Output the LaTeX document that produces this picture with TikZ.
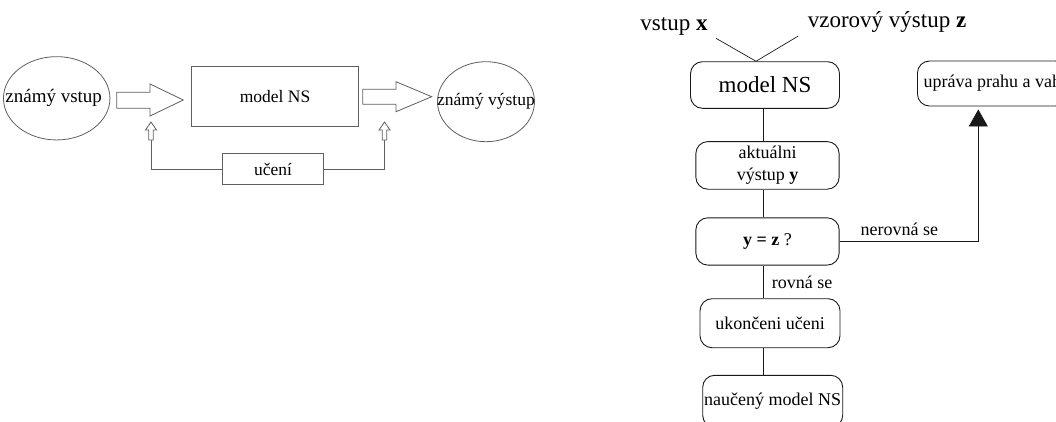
\documentclass[tikz,border=0pt]{standalone}
\usepackage{fontspec}
\setmainfont{Liberation Serif}
\usetikzlibrary{arrows.meta,positioning,shapes.geometric}
\definecolor{linegray}{RGB}{95,95,95}
\definecolor{ink}{RGB}{25,25,25}

\begin{document}
\begin{tikzpicture}[
    x=1pt, y=-1pt,
    every node/.style={inner sep=0pt},
    txt/.style={font=\fontsize{17.5}{22}\selectfont},
    flowtxt/.style={font=\fontsize{18}{22}\selectfont},
    bigtxt/.style={font=\fontsize{23}{27}\selectfont},
    oval/.style={ellipse, draw=linegray, line width=0.8pt},
    block/.style={draw=linegray, line width=0.8pt, txt},
    blockarrow/.style={draw=linegray, line width=0.8pt, fill=white, line join=miter},
    feedback/.style={draw=linegray, line width=0.8pt},
    stepbox/.style={draw=ink, line width=0.9pt, rounded corners=12pt, align=center, flowtxt},
    link/.style={draw=ink, line width=0.9pt},
    arrow/.style={link, -{Triangle[length=17pt, width=19pt]}, shorten >=3pt}
]
\useasboundingbox (0,0) rectangle (1056,421);

% learning scheme
\node[oval, minimum width=106.5pt, minimum height=83.3pt, label={[font=\fontsize{19}{22}\selectfont, xshift=-3pt]center:známý vstup}] (inL) at (56.7,98.3) {};
\node[block, minimum width=166.6pt, minimum height=60pt] (modelL) at (275,96.7) {model NS};
\node[oval, minimum width=97pt, minimum height=80pt, label={[txt]center:známý výstup}] (outL) at (486,101.7) {};
\node[block, minimum width=100.5pt, minimum height=31.7pt] (uceni) at (273,169) {učení};

% fat arrows in and out of the model
\draw[blockarrow] (116.7,92.3) -- ++(33.3,0) -- ++(0,-8.3) -- ++(33.3,16) -- ++(-33.3,16) -- ++(0,-7.7) -- ++(-33.3,0) -- cycle;
\draw[blockarrow] (362.7,89.3) -- ++(33.3,0) -- ++(0,-7.6) -- ++(35.7,15) -- ++(-35.7,15) -- ++(0,-7.4) -- ++(-33.3,0) -- cycle;

% feedback from learning
\coordinate (fbL) at (151,140);
\coordinate (fbR) at (384.5,140);
\draw[feedback] (uceni.west) -| (fbL);
\draw[feedback] (uceni.east) -| (fbR);
\draw[blockarrow] (fbL) ++(-2.2,0) -- ++(0,-10) -- ++(-3.3,0) -- ++(5.5,-8) -- ++(5.5,8) -- ++(-3.3,0) -- ++(0,10) -- cycle;
\draw[blockarrow] (fbR) ++(-2.2,0) -- ++(0,-10) -- ++(-3.3,0) -- ++(5.5,-8) -- ++(5.5,8) -- ++(-3.3,0) -- ++(0,10) -- cycle;

% training loop
\node[bigtxt, anchor=base] (inX) at (674,30) {vstup \textbf{x}};
\node[bigtxt, anchor=base] (goalZ) at (887,27) {vzorový výstup \textbf{z}};
\node[stepbox, bigtxt, minimum width=149pt, minimum height=46.6pt] (modelR) at (765,85) {model NS};
\node[stepbox, minimum width=143.3pt, minimum height=47.6pt, below=32.4pt of modelR, xshift=2.5pt] (aktual) {aktuálni\\výstup \textbf{y}};
\node[stepbox, minimum width=143.3pt, minimum height=47.3pt, below=27.7pt of aktual] (cmp) {\textbf{y = z} ?};
\node[stepbox, minimum width=140pt, minimum height=49pt, below=32.7pt of cmp, xshift=2.5pt] (konec) {ukončeni učeni};
\node[stepbox, minimum width=140pt, minimum height=52pt, below=26.7pt of konec, xshift=2.7pt] (naucen) {naučený model NS};
\node[stepbox, minimum width=150pt, minimum height=45pt, anchor=west] (upr) at (917,83.5) {upráva prahu a vah};

\coordinate (join) at ([xshift=-9pt]modelR.north);
\coordinate (spine) at (763.3,0);
\coordinate (turn) at (978.3,0);

\draw[link, line width=0.7pt] ([xshift=42pt, yshift=-8.3pt]inX.base) -- (join);
\draw[link, line width=0.7pt] ([xshift=-88.7pt, yshift=-9pt]goalZ.base) -- (join);
\draw[link] (modelR.south -| spine) -- (aktual.north -| spine);
\draw[link] (aktual.south -| spine) -- (cmp.north -| spine);
\draw[link] (cmp.south -| spine) -- node[flowtxt, right=8pt, pos=0.5] {rovná se} (konec.north -| spine);
\draw[link] (konec.south -| spine) -- (naucen.north -| spine);
\draw[arrow] (cmp.east) -- node[flowtxt, above=5pt, pos=0.43] {nerovná se} (cmp.east -| turn) -- (turn |- upr.south);
\end{tikzpicture}
\end{document}
